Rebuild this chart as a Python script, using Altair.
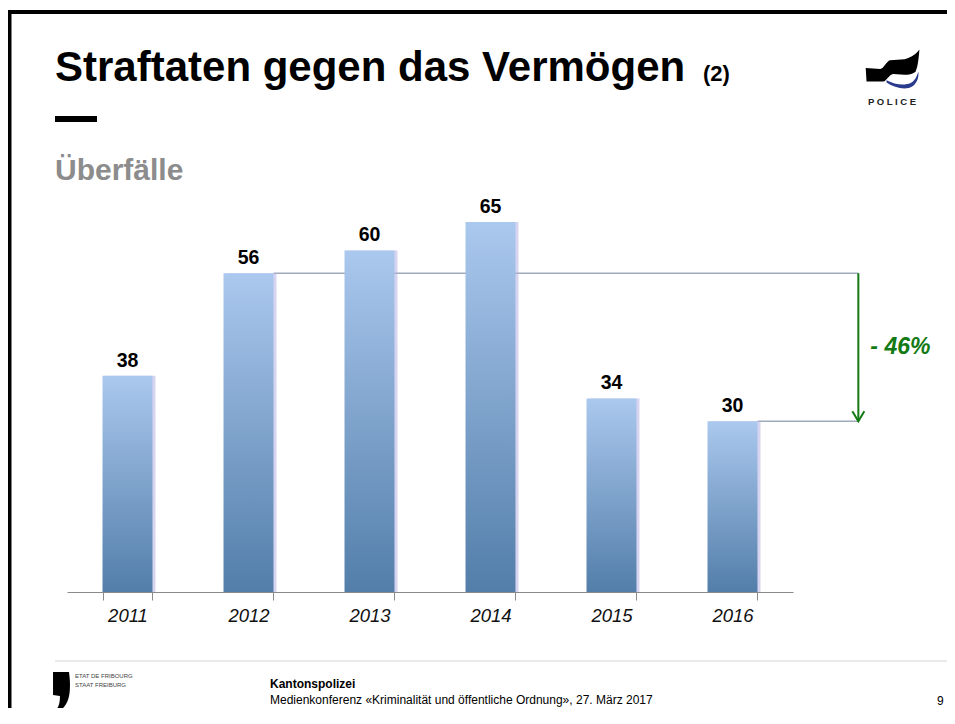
import altair as alt
import pandas as pd

# ---- data ----
years = ["2011", "2012", "2013", "2014", "2015", "2016"]
values = [38, 56, 60, 65, 34, 30]

title_main = "Straftaten gegen das Vermögen"
title_suffix = "(2)"
subtitle = "Überfälle"
footer_org = "Kantonspolizei"
footer_event = "Medienkonferenz «Kriminalität und öffentliche Ordnung», 27. März 2017"
page_no = "9"

FONT = "Liberation Sans"
W, H = 726, 398.5
PAD_IN = 0.587
start_i, end_i = 1, 5

df = pd.DataFrame({"year": years, "value": values})

yenc = alt.Y("value:Q", scale=alt.Scale(domain=[0, 70], nice=False, zero=True), axis=None)
band_scale = alt.Scale(domain=years, paddingInner=PAD_IN, paddingOuter=PAD_IN / 2)

x_axis = alt.Axis(
    title=None, labelAngle=0, tickBand="extent", tickSize=8, tickColor="#8a8a8a",
    domainColor="#8a8a8a", domainWidth=1, labelPadding=6, labelFontSize=18.5,
    labelFontStyle="italic", labelColor="#111111", labelFont=FONT, grid=False,
)
xband = alt.X("year:N", sort=years, scale=band_scale, axis=x_axis)

base = alt.Chart(df)
shadow = base.mark_bar(xOffset=3, color="#b7b0e6", opacity=0.55).encode(x=xband, y=yenc)
bars = base.mark_bar(
    color=alt.Gradient(
        gradient="linear",
        stops=[alt.GradientStop(color="#abc8ee", offset=0),
               alt.GradientStop(color="#527ea9", offset=1)],
        x1=0, x2=0, y1=0, y2=1,
    )
).encode(x=xband, y=yenc)
labels = base.mark_text(
    font=FONT, fontSize=19.5, fontWeight="bold", color="#000000", baseline="alphabetic", dy=-9,
).encode(x=xband, y=yenc, text="value:Q")

band_layer = alt.layer(shadow, bars, labels)

# ---- change annotation ----
n = len(years)
half_bw = (1 - PAD_IN) / 2
arrow_x = n + 0.54
pct = round((values[end_i] - values[start_i]) / values[start_i] * 100)
pct_label = f"- {abs(pct)}%"

xq = alt.X("x:Q", scale=alt.Scale(domain=[0, n], nice=False, zero=False), axis=None)
yq = alt.Y("y:Q", scale=alt.Scale(domain=[0, 70], nice=False, zero=True), axis=None)

ref_df = pd.DataFrame({
    "x": [start_i + 0.5 + half_bw, end_i + 0.5 + half_bw],
    "x2": [arrow_x, arrow_x],
    "y": [values[start_i], values[end_i]],
})
ref_rules = alt.Chart(ref_df).mark_rule(color="#a0aabb", strokeWidth=1.5).encode(
    x=xq, x2="x2:Q", y=yq
)

arrow_df = pd.DataFrame({"x": [arrow_x], "y": [values[start_i]], "y2": [values[end_i]]})
arrow = alt.Chart(arrow_df).mark_rule(color="#137a13", strokeWidth=2).encode(x=xq, y=yq, y2="y2:Q")
head_df = pd.DataFrame({"x": [arrow_x], "y": [values[end_i]]})
head = alt.Chart(head_df).mark_point(
    shape="M-0.6,-1L0,0L0.6,-1", size=400, filled=False, stroke="#137a13", strokeWidth=2, opacity=1
).encode(x=xq, y=yq)
pct_df = pd.DataFrame({"x": [arrow_x], "y": [(values[start_i] + values[end_i]) / 2], "t": [pct_label]})
pct_text = alt.Chart(pct_df).mark_text(
    font=FONT, fontSize=23, fontWeight="bold", fontStyle="italic", color="#137a13",
    align="left", baseline="middle", dx=12,
).encode(x=xq, y=yq, text="t:N")

back_layer = alt.layer(ref_rules)
front_layer = alt.layer(arrow, head, pct_text)

# ---- slide decorations (page-fixed) ----
one = alt.InlineData(values=[{"k": 1}])


def txt(text, x, y, size, weight="normal", color="#000000", style="normal", align="left"):
    return alt.Chart(one).mark_text(
        text=text, font=FONT, fontSize=size, fontWeight=weight, color=color,
        fontStyle=style, align=align, baseline="alphabetic",
    ).encode(x=alt.value(x), y=alt.value(y))


def hline(x, x2, y, width, color):
    return alt.Chart(one).mark_rule(color=color, strokeWidth=width).encode(
        x=alt.value(x), x2=alt.value(x2), y=alt.value(y)
    )


def vline(x, y, y2, width, color):
    return alt.Chart(one).mark_rule(color=color, strokeWidth=width).encode(
        x=alt.value(x), y=alt.value(y), y2=alt.value(y2)
    )


def shape(path, x, y, size, color):
    return alt.Chart(one).mark_point(
        shape=path, size=size, filled=True, color=color, opacity=1, strokeWidth=0
    ).encode(x=alt.value(x), y=alt.value(y))


flag_path = ("M-0.96,0.07 L-0.43,0.11 C-0.3,0.1 -0.2,-0.18 -0.07,-0.21 L0.46,-0.25 "
             "C0.7,-0.3 0.9,-0.45 1.0,-0.6 C0.98,-0.3 0.94,0.05 0.86,0.21 "
             "C0.75,0.3 0.6,0.32 0.46,0.32 L0.04,0.29 C-0.1,0.3 -0.2,0.55 -0.32,0.57 "
             "L-0.93,0.57 Z")
swoosh_path = ("M-0.2,0.6 C0.1,0.8 0.5,0.9 0.75,0.74 C0.92,0.62 0.99,0.4 0.96,0.2 "
               "C0.9,0.42 0.82,0.55 0.68,0.62 C0.45,0.72 0.1,0.68 -0.2,0.52 Z")
comma_path = ("M-0.38,-0.95 L0.38,-0.95 C0.45,-0.5 0.45,0.1 0.33,0.38 "
              "C0.25,0.6 0.1,0.85 -0.24,1.0 L-0.29,0.9 C-0.1,0.75 -0.05,0.5 -0.05,0.19 "
              "L-0.38,0.14 Z")

# plot origin sits at page (67, 193.5)
decor = [
    hline(-59, 890, -181.5, 4, "#000000"),
    vline(-57.5, -183.5, 540, 4, "#000000"),
    txt(title_main, -12, -112.5, 42, "bold"),
    txt(title_suffix, 636, -112.5, 22, "bold"),
    hline(-12, 30, -74.5, 6, "#000000"),
    txt(subtitle, -12, -13.5, 30, "bold", "#8c8c8c"),
    shape(flag_path, 825, -127.5, 3000, "#000000"),
    shape(swoosh_path, 825, -127.5, 3000, "#2a3a8c"),
    txt("P O L I C E", 825, -88.5, 9.5, "bold", "#222222", align="center"),
    hline(-12, 881, 467.5, 1, "#d4d4d4"),
    shape(comma_path, -6, 498.5, 1764, "#000000"),
    txt("ETAT DE FRIBOURG", 8, 484.5, 6, color="#444444"),
    txt("STAAT FREIBURG", 8, 493.5, 6, color="#444444"),
    txt(footer_org, 203, 494.5, 12, "bold"),
    txt(footer_event, 203, 510.5, 12),
    txt(page_no, 870, 511.5, 12),
]

chart = alt.layer(back_layer, band_layer, front_layer, *decor).resolve_scale(
    x="independent"
).properties(
    width=W, height=H,
    padding={"left": 59, "top": 185.5, "right": 154, "bottom": 116},
    autosize=alt.AutoSizeParams(type="none"),
).configure_view(stroke=None)

chart.save("out.html", embed_options={"renderer": "svg", "actions": False})
